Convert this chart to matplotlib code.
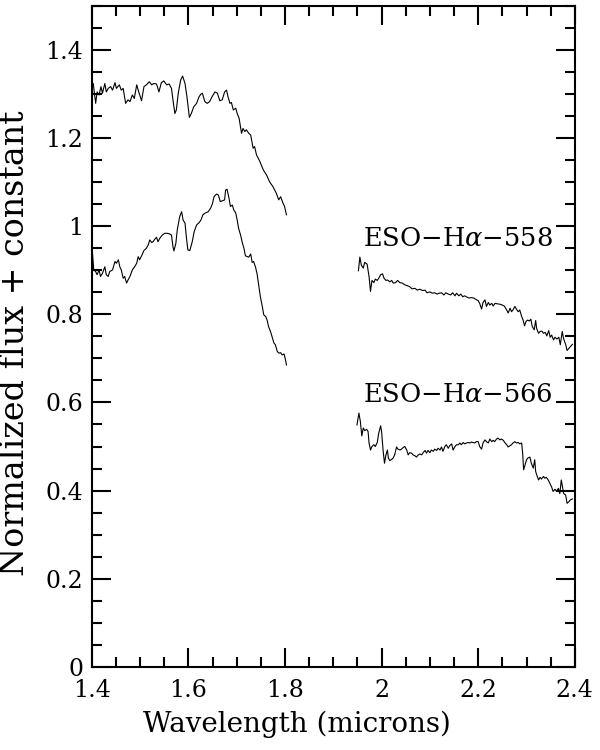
import matplotlib
matplotlib.use("Agg")
import matplotlib.pyplot as plt
from matplotlib.ticker import MultipleLocator, FuncFormatter

# spectra (wavelength in microns, normalized flux + offset)
h_558_wl = [1.403, 1.408, 1.411, 1.415, 1.419, 1.422, 1.427, 1.430, 1.434, 1.439,
            1.443, 1.448, 1.451, 1.457, 1.461, 1.465, 1.470, 1.475, 1.479, 1.484,
            1.488, 1.493, 1.498, 1.503, 1.508, 1.513, 1.519, 1.524, 1.528, 1.534,
            1.539, 1.544, 1.549, 1.555, 1.560, 1.565, 1.568, 1.572, 1.575, 1.579,
            1.584, 1.588, 1.593, 1.597, 1.602, 1.606, 1.611, 1.617, 1.622, 1.626,
            1.629, 1.634, 1.639, 1.644, 1.649, 1.655, 1.660, 1.665, 1.670, 1.675,
            1.679, 1.682, 1.686, 1.689, 1.693, 1.698, 1.701, 1.705, 1.710, 1.713,
            1.717, 1.720, 1.725, 1.729, 1.734, 1.737, 1.741, 1.748, 1.755, 1.762,
            1.768, 1.775, 1.782, 1.787, 1.791, 1.796, 1.799, 1.803]
h_558_fl = [1.324, 1.279, 1.305, 1.298, 1.317, 1.302, 1.324, 1.305, 1.313, 1.317,
            1.309, 1.326, 1.313, 1.321, 1.309, 1.313, 1.279, 1.287, 1.283, 1.298,
            1.290, 1.321, 1.302, 1.285, 1.317, 1.321, 1.328, 1.321, 1.324, 1.323,
            1.305, 1.326, 1.330, 1.321, 1.323, 1.313, 1.287, 1.256, 1.264, 1.302,
            1.332, 1.341, 1.324, 1.294, 1.247, 1.256, 1.271, 1.279, 1.294, 1.300,
            1.302, 1.283, 1.279, 1.283, 1.294, 1.305, 1.302, 1.285, 1.287, 1.305,
            1.309, 1.294, 1.279, 1.281, 1.264, 1.268, 1.256, 1.245, 1.211, 1.222,
            1.215, 1.219, 1.211, 1.207, 1.177, 1.181, 1.162, 1.147, 1.128, 1.116,
            1.101, 1.090, 1.075, 1.060, 1.067, 1.052, 1.045, 1.026]

h_566_wl = [1.401, 1.404, 1.408, 1.411, 1.415, 1.418, 1.422, 1.427, 1.430, 1.434,
            1.437, 1.443, 1.448, 1.451, 1.455, 1.458, 1.461, 1.465, 1.468, 1.472,
            1.475, 1.479, 1.484, 1.488, 1.493, 1.496, 1.499, 1.504, 1.508, 1.513,
            1.517, 1.520, 1.524, 1.527, 1.530, 1.534, 1.537, 1.541, 1.546, 1.551,
            1.556, 1.560, 1.565, 1.568, 1.570, 1.574, 1.577, 1.582, 1.586, 1.589,
            1.593, 1.596, 1.599, 1.603, 1.608, 1.612, 1.617, 1.622, 1.626, 1.630,
            1.635, 1.641, 1.646, 1.650, 1.653, 1.658, 1.662, 1.666, 1.671, 1.675,
            1.677, 1.680, 1.684, 1.687, 1.691, 1.694, 1.698, 1.701, 1.704, 1.708,
            1.712, 1.715, 1.718, 1.722, 1.725, 1.729, 1.732, 1.735, 1.739, 1.742,
            1.746, 1.749, 1.753, 1.756, 1.760, 1.763, 1.766, 1.770, 1.773, 1.777,
            1.780, 1.784, 1.787, 1.791, 1.794, 1.798, 1.801, 1.803]
h_566_fl = [0.946, 0.901, 0.897, 0.890, 0.901, 0.886, 0.893, 0.908, 0.890, 0.886,
            0.897, 0.901, 0.920, 0.916, 0.924, 0.908, 0.901, 0.882, 0.886, 0.871,
            0.878, 0.886, 0.901, 0.907, 0.916, 0.931, 0.924, 0.935, 0.945, 0.950,
            0.958, 0.969, 0.963, 0.965, 0.970, 0.975, 0.965, 0.973, 0.980, 0.984,
            0.984, 0.983, 0.980, 0.954, 0.944, 0.961, 0.992, 1.022, 1.033, 1.014,
            1.007, 0.973, 0.946, 0.945, 0.965, 0.988, 1.003, 1.008, 1.014, 1.026,
            1.030, 1.033, 1.041, 1.052, 1.067, 1.073, 1.071, 1.056, 1.058, 1.060,
            1.082, 1.084, 1.064, 1.045, 1.048, 1.037, 1.030, 1.014, 0.995, 0.980,
            0.961, 0.950, 0.933, 0.931, 0.930, 0.937, 0.918, 0.920, 0.907, 0.893,
            0.863, 0.840, 0.818, 0.799, 0.795, 0.787, 0.772, 0.761, 0.750, 0.735,
            0.731, 0.716, 0.712, 0.713, 0.708, 0.710, 0.697, 0.685]

k_558_wl = [1.952, 1.955, 1.958, 1.962, 1.965, 1.970, 1.974, 1.977, 1.980, 1.984,
            1.987, 1.991, 1.994, 1.998, 2.002, 2.005, 2.009, 2.012, 2.017, 2.021,
            2.024, 2.029, 2.033, 2.038, 2.043, 2.048, 2.053, 2.058, 2.063, 2.069,
            2.074, 2.079, 2.085, 2.090, 2.094, 2.100, 2.105, 2.110, 2.115, 2.119,
            2.124, 2.129, 2.133, 2.138, 2.143, 2.147, 2.152, 2.155, 2.160, 2.164,
            2.168, 2.172, 2.177, 2.181, 2.186, 2.191, 2.195, 2.200, 2.203, 2.207,
            2.210, 2.214, 2.217, 2.221, 2.224, 2.228, 2.231, 2.235, 2.239, 2.245,
            2.250, 2.254, 2.259, 2.262, 2.266, 2.269, 2.272, 2.276, 2.279, 2.283,
            2.286, 2.290, 2.293, 2.296, 2.299, 2.302, 2.306, 2.309, 2.312, 2.316,
            2.319, 2.321, 2.325, 2.328, 2.332, 2.335, 2.339, 2.342, 2.346, 2.349,
            2.352, 2.356, 2.359, 2.363, 2.367, 2.370, 2.374, 2.377, 2.381, 2.384,
            2.388, 2.391, 2.395]
k_558_fl = [0.899, 0.930, 0.912, 0.905, 0.918, 0.914, 0.886, 0.852, 0.877, 0.872,
            0.880, 0.877, 0.882, 0.890, 0.892, 0.882, 0.877, 0.878, 0.874, 0.877,
            0.871, 0.872, 0.877, 0.872, 0.871, 0.867, 0.865, 0.863, 0.858, 0.859,
            0.855, 0.857, 0.854, 0.855, 0.849, 0.851, 0.848, 0.849, 0.846, 0.848,
            0.849, 0.844, 0.849, 0.846, 0.844, 0.849, 0.842, 0.848, 0.842, 0.846,
            0.840, 0.842, 0.839, 0.837, 0.838, 0.837, 0.834, 0.831, 0.825, 0.812,
            0.827, 0.833, 0.818, 0.827, 0.821, 0.825, 0.819, 0.825, 0.824, 0.823,
            0.821, 0.819, 0.810, 0.803, 0.814, 0.806, 0.810, 0.818, 0.812, 0.806,
            0.810, 0.795, 0.787, 0.774, 0.784, 0.787, 0.785, 0.789, 0.772, 0.765,
            0.786, 0.768, 0.757, 0.761, 0.762, 0.757, 0.759, 0.751, 0.763, 0.748,
            0.753, 0.742, 0.748, 0.744, 0.748, 0.731, 0.761, 0.744, 0.732, 0.718,
            0.723, 0.727, 0.732]

k_566_wl = [1.949, 1.953, 1.956, 1.959, 1.962, 1.965, 1.969, 1.972, 1.974, 1.977,
            1.980, 1.984, 1.987, 1.991, 1.994, 1.998, 2.000, 2.003, 2.006, 2.009,
            2.012, 2.014, 2.017, 2.021, 2.024, 2.027, 2.031, 2.034, 2.038, 2.041,
            2.045, 2.048, 2.052, 2.055, 2.058, 2.062, 2.065, 2.069, 2.072, 2.076,
            2.079, 2.083, 2.086, 2.090, 2.093, 2.096, 2.100, 2.103, 2.107, 2.110,
            2.114, 2.117, 2.121, 2.124, 2.127, 2.131, 2.134, 2.138, 2.141, 2.145,
            2.148, 2.152, 2.155, 2.159, 2.162, 2.165, 2.169, 2.172, 2.176, 2.179,
            2.183, 2.186, 2.190, 2.193, 2.196, 2.200, 2.203, 2.207, 2.210, 2.214,
            2.217, 2.221, 2.224, 2.228, 2.231, 2.234, 2.238, 2.241, 2.245, 2.248,
            2.252, 2.255, 2.259, 2.262, 2.266, 2.269, 2.272, 2.276, 2.279, 2.283,
            2.286, 2.290, 2.292, 2.294, 2.297, 2.300, 2.303, 2.307, 2.310, 2.314,
            2.317, 2.319, 2.322, 2.325, 2.328, 2.331, 2.335, 2.338, 2.341, 2.345,
            2.348, 2.352, 2.355, 2.359, 2.362, 2.366, 2.369, 2.372, 2.377, 2.381,
            2.384, 2.388, 2.391, 2.395]
k_566_fl = [0.549, 0.576, 0.557, 0.524, 0.542, 0.536, 0.539, 0.534, 0.508, 0.492,
            0.500, 0.504, 0.500, 0.509, 0.530, 0.547, 0.534, 0.492, 0.462, 0.481,
            0.492, 0.474, 0.468, 0.471, 0.474, 0.481, 0.499, 0.494, 0.492, 0.494,
            0.498, 0.500, 0.492, 0.481, 0.486, 0.485, 0.481, 0.479, 0.476, 0.481,
            0.483, 0.481, 0.486, 0.491, 0.485, 0.491, 0.486, 0.492, 0.489, 0.494,
            0.491, 0.496, 0.492, 0.499, 0.489, 0.500, 0.504, 0.496, 0.502, 0.506,
            0.492, 0.500, 0.504, 0.504, 0.508, 0.504, 0.509, 0.506, 0.508, 0.509,
            0.508, 0.510, 0.509, 0.508, 0.511, 0.511, 0.500, 0.494, 0.508, 0.515,
            0.511, 0.508, 0.517, 0.511, 0.514, 0.511, 0.517, 0.519, 0.515, 0.517,
            0.514, 0.509, 0.504, 0.499, 0.502, 0.504, 0.508, 0.511, 0.508, 0.509,
            0.506, 0.508, 0.485, 0.447, 0.458, 0.470, 0.474, 0.476, 0.462, 0.451,
            0.470, 0.443, 0.433, 0.424, 0.430, 0.426, 0.432, 0.428, 0.430, 0.424,
            0.417, 0.408, 0.398, 0.403, 0.398, 0.405, 0.393, 0.424, 0.393, 0.390,
            0.371, 0.375, 0.379, 0.381]

labels = ["ESO\u2212H$\\alpha$\u2212558", "ESO\u2212H$\\alpha$\u2212566"]
label_y = [0.973, 0.619]

plt.rcParams['font.family'] = ['DejaVu Serif']
plt.rcParams['mathtext.fontset'] = 'dejavuserif'

fig = plt.figure(figsize=(6, 7.5), dpi=100)
ax = fig.add_axes([0.153, 0.111, 0.805, 0.881])

for wl, fl in [(h_558_wl, h_558_fl), (h_566_wl, h_566_fl),
               (k_558_wl, k_558_fl), (k_566_wl, k_566_fl)]:
    ax.plot(wl, fl, color='black', lw=0.8)

for txt, yy in zip(labels, label_y):
    ax.text(1.961, yy, txt, fontsize=18.5, ha='left', va='center')

ax.set_xlim(1.4, 2.4)
ax.set_ylim(0, 1.5)
ax.xaxis.set_major_locator(MultipleLocator(0.2))
ax.xaxis.set_minor_locator(MultipleLocator(0.05))
ax.yaxis.set_major_locator(MultipleLocator(0.2))
ax.yaxis.set_minor_locator(MultipleLocator(0.05))
fmt = FuncFormatter(lambda v, p: '%g' % round(v, 2))
ax.xaxis.set_major_formatter(fmt)
ax.yaxis.set_major_formatter(fmt)
ax.tick_params(which='both', direction='in', top=True, right=True,
               width=1.5, labelsize=17)
ax.tick_params(which='major', length=14)
ax.tick_params(which='minor', length=7)
ax.tick_params(axis='x', which='major', pad=9)
ax.tick_params(axis='y', which='major', pad=6)
for s in ax.spines.values():
    s.set_linewidth(1.5)

ax.set_xlabel('Wavelength (microns)', fontsize=20)
ax.xaxis.set_label_coords(0.424, -0.066)
ax.set_ylabel('Normalized flux + constant', fontsize=24)
ax.yaxis.set_label_coords(-0.125, 0.49)

fig.savefig('out.png', dpi=100)
